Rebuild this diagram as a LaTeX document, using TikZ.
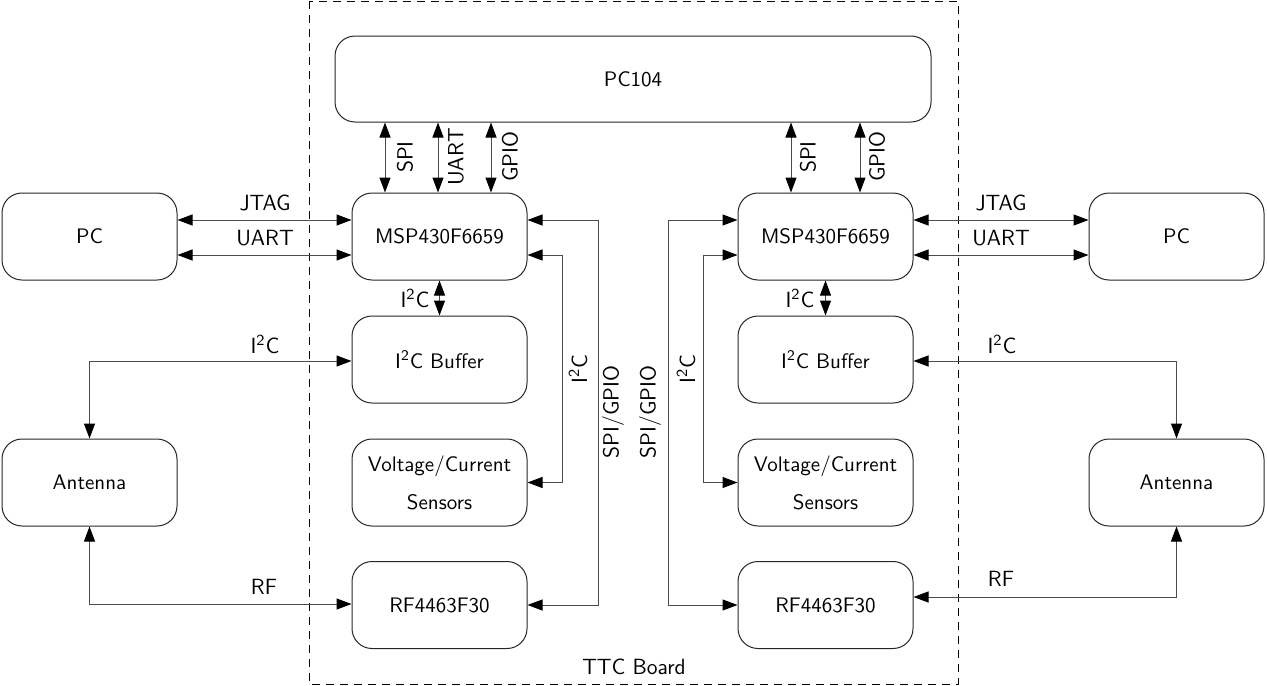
\documentclass[tikz,border=0pt]{standalone}
\usetikzlibrary{arrows.meta}
\begin{document}
\begin{tikzpicture}[x=0.5pt,y=-0.5pt,
  font=\sffamily\fontsize{10.5}{12}\selectfont,
  blk/.style={draw=black!85,line width=0.5pt,rounded corners=10pt,minimum width=87.5pt,minimum height=43.5pt,inner sep=0pt,align=center},
  conn/.style={draw=black!70,line width=0.5pt,{Triangle[length=7.5pt,width=5.5pt,color=black]}-{Triangle[length=7.5pt,width=5.5pt,color=black]}},
  lbl/.style={inner sep=0pt,font=\sffamily\fontsize{11}{13}\selectfont},
  vlbl/.style={lbl,rotate=90}]
\useasboundingbox (0,0) rectangle (1267,685);
% board
\draw[black,line width=0.5pt,dash pattern=on 4pt off 3pt] (309,1) rectangle (958,684);
\node[lbl] (ttc) at (634,667) {TTC Board};
% blocks
\node[blk,minimum width=298pt,minimum height=43pt] (pc104) at (633,79) {PC104};
\node[blk] (mspL) at (439.5,236.5) {MSP430F6659};
\node[blk] (mspR) at (825.5,236.5) {MSP430F6659};
\node[blk] (pcL) at (89.5,236.5) {PC};
\node[blk] (pcR) at (1176.5,236.5) {PC};
\node[blk] (bufL) at (439.5,359.5) {I\textsuperscript{2}C Buffer};
\node[blk] (bufR) at (825.5,359.5) {I\textsuperscript{2}C Buffer};
\node[blk,font=\sffamily\fontsize{10.5}{19}\selectfont] (senL) at (439.5,482.5) {Voltage/Current\\Sensors};
\node[blk,font=\sffamily\fontsize{10.5}{19}\selectfont] (senR) at (825.5,482.5) {Voltage/Current\\Sensors};
\node[blk] (rfL) at (439.5,605) {RF4463F30};
\node[blk] (rfR) at (825.5,605) {RF4463F30};
\node[blk] (antL) at (89.5,482.5) {Antenna};
\node[blk] (antR) at (1176.5,482.5) {Antenna};
% helper coordinates
\coordinate (yj) at (0,220);
\coordinate (yu) at (0,255);
\coordinate (xs1) at (385,0);
\coordinate (xu1) at (438,0);
\coordinate (xg1) at (491,0);
\coordinate (xs2) at (791,0);
\coordinate (xg2) at (860,0);
\coordinate (yiL) at (0,361);
\coordinate (yrL) at (0,604);
\coordinate (yiR) at (0,361);
\coordinate (yrR) at (0,597);
\coordinate (bL1) at (562,0);
\coordinate (bL2) at (598,0);
\coordinate (bR1) at (703,0);
\coordinate (bR2) at (668,0);
% PC104 buses
\draw[conn] (pc104.south -| xs1) -- (mspL.north -| xs1);
\draw[conn] (pc104.south -| xu1) -- (mspL.north -| xu1);
\draw[conn] (pc104.south -| xg1) -- (mspL.north -| xg1);
\draw[conn] (pc104.south -| xs2) -- (mspR.north -| xs2);
\draw[conn] (pc104.south -| xg2) -- (mspR.north -| xg2);
\node[vlbl] (l1) at (405,157) {SPI};
\node[vlbl] (l2) at (456,157) {UART};
\node[vlbl] (l3) at (510,157) {GPIO};
\node[vlbl] (l4) at (808,157) {SPI};
\node[vlbl] (l5) at (877,157) {GPIO};
% PC links
\draw[conn] (pcL.east |- yj) -- (mspL.west |- yj);
\draw[conn] (pcL.east |- yu) -- (mspL.west |- yu);
\draw[conn] (mspR.east |- yj) -- (pcR.west |- yj);
\draw[conn] (mspR.east |- yu) -- (pcR.west |- yu);
\node[lbl] (l6) at (265,203) {JTAG};
\node[lbl] (l7) at (265,238) {UART};
\node[lbl] (l8) at (1001,203) {JTAG};
\node[lbl] (l9) at (1001,238) {UART};
% MSP - buffer
\draw[conn] (mspL.south) -- (bufL.north);
\draw[conn] (mspR.south) -- (bufR.north);
\node[lbl] (l10) at (415,298) {I\textsuperscript{2}C};
\node[lbl] (l11) at (800,298) {I\textsuperscript{2}C};
% antenna links
\draw[conn] (antL.north) |- (bufL.west |- yiL);
\draw[conn] (antL.south) |- (rfL.west |- yrL);
\draw[conn] (antR.north) |- (bufR.east |- yiR);
\draw[conn] (antR.south) |- (rfR.east |- yrR);
\node[lbl] (l12) at (265,344) {I\textsuperscript{2}C};
\node[lbl] (l13) at (264,587) {RF};
\node[lbl] (l14) at (1002,344) {I\textsuperscript{2}C};
\node[lbl] (l15) at (1001,579) {RF};
% internal buses left
\draw[conn] (mspL.east |- yu) -| (bL1 |- senL.east) -- (senL.east);
\draw[conn] (mspL.east |- yj) -| (bL2 |- rfL.east) -- (rfL.east);
% internal buses right
\draw[conn] (mspR.west |- yu) -| (bR1 |- senR.west) -- (senR.west);
\draw[conn] (mspR.west |- yj) -| (bR2 |- rfR.west) -- (rfR.west);
\node[vlbl] (l16) at (578,369) {I\textsuperscript{2}C};
\node[vlbl] (l17) at (613,412) {SPI/GPIO};
\node[vlbl] (l18) at (650,412) {SPI/GPIO};
\node[vlbl] (l19) at (686,369) {I\textsuperscript{2}C};
\end{tikzpicture}
\end{document}
